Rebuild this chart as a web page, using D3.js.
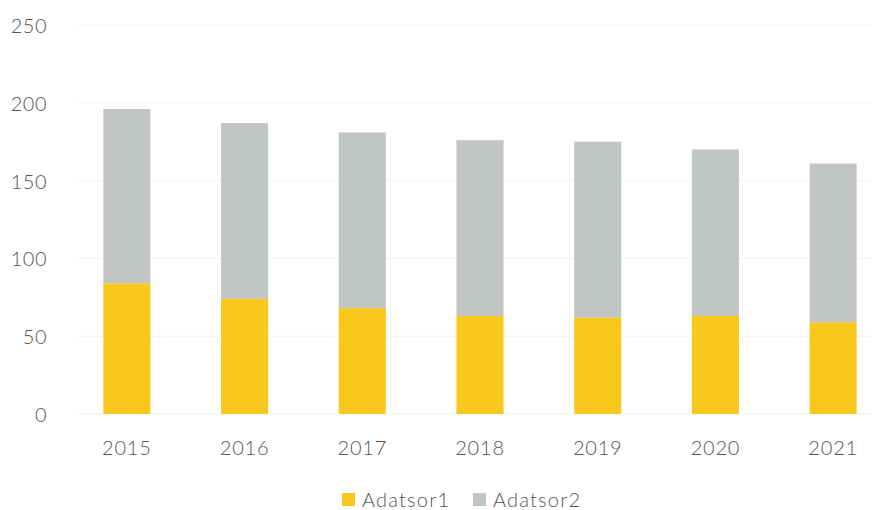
<!DOCTYPE html>
<html><head><meta charset="utf-8">
<script src="https://cdn.jsdelivr.net/npm/d3@7"></script>
<style>body{margin:0;background:#fff}svg{display:block}</style>
</head><body>
<svg id="c" width="872" height="510"></svg>
<script>
const categories = ["2015","2016","2017","2018","2019","2020","2021"];
const adatsor1 = [84, 74, 68, 63, 62, 63, 59];
const adatsor2 = [112, 113, 113, 113, 113, 107, 102];
const seriesNames = ["Adatsor1","Adatsor2"];
const yTicks = [0, 50, 100, 150, 200, 250];
const colors = ["#FAC81C", "#C1C6C2"];

const svg = d3.select("#c");
const x = d3.scaleBand().domain(categories).range([68, 892]).paddingInner(0.6).paddingOuter(0.3);
const y = d3.scaleLinear().domain([0, 250]).range([414, 25]);
const font = "Lato, 'Open Sans', sans-serif";
const txt = "#555";

// gridlines
svg.append("g").selectAll("line").data(yTicks).join("line")
  .attr("x1", 78).attr("x2", 872)
  .attr("y1", d => y(d)).attr("y2", d => y(d))
  .attr("stroke", "#f3f3f3").attr("stroke-width", 1);

// y axis labels
const ya = svg.append("g").attr("transform", "translate(47,1)")
  .call(d3.axisLeft(y).tickValues(yTicks).tickSize(0).tickPadding(0));
ya.select(".domain").remove();
ya.selectAll("text").attr("font-family", font).attr("font-size", 20).attr("fill", txt)
  .attr("font-weight", 300).attr("letter-spacing", 0.5);

// stacked bars
const data = categories.map((c, i) => ({cat: c, Adatsor1: adatsor1[i], Adatsor2: adatsor2[i]}));
const stack = d3.stack().keys(seriesNames)(data);
svg.append("g").selectAll("g").data(stack).join("g")
  .attr("fill", (d, i) => colors[i])
  .selectAll("rect").data(d => d).join("rect")
  .attr("x", d => x(d.data.cat))
  .attr("width", x.bandwidth())
  .attr("y", d => y(d[1]))
  .attr("height", d => y(d[0]) - y(d[1]));

// x axis labels
const xa = svg.append("g").attr("transform", "translate(0,441)")
  .call(d3.axisBottom(x).tickSize(0).tickPadding(0));
xa.select(".domain").remove();
xa.selectAll("text").attr("font-family", font).attr("font-size", 20).attr("fill", txt)
  .attr("font-weight", 300).attr("letter-spacing", 0.8);

// legend
const leg = svg.append("g").attr("transform", "translate(0,500)");
const legPos = [342, 473];
seriesNames.forEach((s, i) => {
  leg.append("rect").attr("x", legPos[i]).attr("y", -7).attr("width", 13).attr("height", 13).attr("fill", colors[i]);
  leg.append("text").attr("x", legPos[i] + 20).attr("y", 0).attr("dy", "0.35em")
    .attr("font-family", font).attr("font-size", 20).attr("fill", txt).attr("font-weight", 300)
    .attr("letter-spacing", 1.2).text(s);
});
</script>
</body></html>
